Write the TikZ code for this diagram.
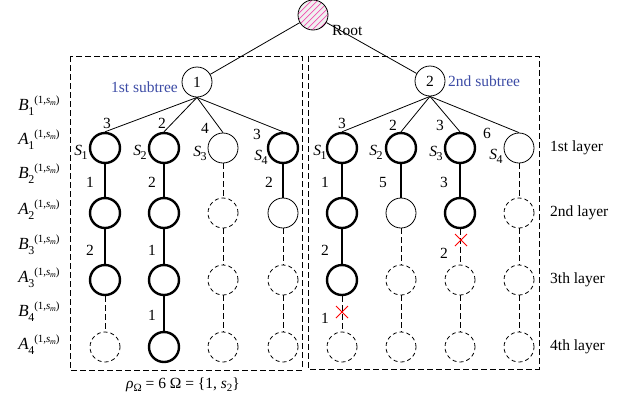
\documentclass[tikz,border=0pt]{standalone}
\usepackage{fontspec}
\setmainfont{Liberation Serif}
\usetikzlibrary{calc}
\definecolor{subblue}{RGB}{60,75,165}
\tikzset{
  x=1pt,y=-1pt,
  nd/.style={circle,minimum size=30pt,inner sep=0pt,draw,line width=0.8pt},
  ndthick/.style={nd,line width=2.4pt},
  nddash/.style={nd,dash pattern=on 4pt off 3pt},
  ethick/.style={line width=2.4pt},
  ethin/.style={line width=0.8pt},
  edash/.style={line width=0.8pt,dash pattern=on 6pt off 3pt},
  box/.style={line width=0.8pt,dash pattern=on 6pt off 3pt},
  lab/.style={font=\fontsize{15.5}{15.5}\selectfont,inner sep=0pt},
  rowlab/.style={font=\fontsize{17}{17}\selectfont,inner sep=0pt},
  xmark/.style={red,line width=0.8pt},
}
\newcommand{\XM}[2]{\draw[xmark] ($(#1)+(-6,-6)$) -- ($(#1)+(6,6)$) ($(#1)+(-6,6)$) -- ($(#1)+(6,-6)$);}
\newcommand{\SL}[1]{\textit{S}\kern-0.5pt\raisebox{-4pt}{\fontsize{12}{12}\selectfont #1}}
\newcommand{\RL}[2]{\textit{#1}\kern-0.5pt\raisebox{-5pt}{\fontsize{12}{12}\selectfont #2}\raisebox{7pt}{\fontsize{11}{11}\selectfont (1,\textit{s}\kern-0.3pt\raisebox{-2pt}{\fontsize{8}{8}\selectfont\textit{m}})}}
\begin{document}
\begin{tikzpicture}
\useasboundingbox (0,0) rectangle (634,400);
% boxes
\draw[box] (70,56) rectangle (302,370);
\draw[box] (308,56) rectangle (539,369);
% root
\node[nd,minimum size=30pt,
  path picture={\fill[gray!12] (path picture bounding box.south west) rectangle (path picture bounding box.north east);
    \foreach \k in {-40,-34,...,40} {\draw[magenta!70,line width=0.7pt] ($(path picture bounding box.center)+(\k-20,20)$) -- ($(path picture bounding box.center)+(\k+20,-20)$);}}] (root) at (313,15) {};
\node[lab,anchor=west] (roottxt) at (332,30) {Root};
% subtrees
\node[nd] (t1) at (197,82) {\fontsize{15.5}{15.5}\selectfont 1};
\node[nd] (t2) at (430,81) {\fontsize{15.5}{15.5}\selectfont 2};
\node[lab,text=subblue,anchor=east] (st1) at (178,87) {1st subtree};
\node[lab,text=subblue,anchor=west] (st2) at (448,81) {2nd subtree};
\draw[ethin] (root) -- (t1);
\draw[ethin] (root) -- (t2);
% left subtree column 1
\node[ndthick] (a1) at (105,148) {};
\node[ndthick] (a2) at (105,213) {};
\node[ndthick] (a3) at (105,280) {};
\node[nddash] (a4) at (105,347) {};
% column 2
\node[ndthick] (b1) at (164,148) {};
\node[ndthick] (b2) at (164,213) {};
\node[ndthick] (b3) at (164,280) {};
\node[ndthick] (b4) at (164,347) {};
% column 3
\node[nd] (c1) at (223,148) {};
\node[nddash] (c2) at (223,213) {};
\node[nddash] (c3) at (223,280) {};
\node[nddash] (c4) at (223,347) {};
% column 4
\node[ndthick] (d1) at (283,148) {};
\node[nd] (d2) at (283,213) {};
\node[nddash] (d3) at (283,280) {};
\node[nddash] (d4) at (283,347) {};
% right subtree
\node[ndthick] (e1) at (342,148) {};
\node[ndthick] (e2) at (342,213) {};
\node[ndthick] (e3) at (342,280) {};
\node[nddash] (e4) at (342,347) {};
\node[ndthick] (f1) at (401,148) {};
\node[nd] (f2) at (401,213) {};
\node[nddash] (f3) at (401,280) {};
\node[nddash] (f4) at (401,347) {};
\node[ndthick] (g1) at (460,148) {};
\node[ndthick] (g2) at (460,213) {};
\node[nddash] (g3) at (460,280) {};
\node[nddash] (g4) at (460,347) {};
\node[nd] (h1) at (519,148) {};
\node[nddash] (h2) at (519,213) {};
\node[nddash] (h3) at (519,280) {};
\node[nddash] (h4) at (519,347) {};
% subtree to layer1 edges
\foreach \n in {a1,b1,c1,d1} \draw[ethin] (t1.south) -- (\n.north);
\foreach \n in {e1,f1,g1,h1} \draw[ethin] (t2.south) -- (\n.north);
% vertical edges
\draw[ethick] (a1) -- (a2); \draw[ethick] (a2) -- (a3); \draw[edash] (a3) -- (a4);
\draw[ethick] (b1) -- (b2); \draw[ethick] (b2) -- (b3); \draw[ethick] (b3) -- (b4);
\draw[edash] (c1) -- (c2); \draw[edash] (c2) -- (c3); \draw[edash] (c3) -- (c4);
\draw[ethick] (d1) -- (d2); \draw[edash] (d2) -- (d3); \draw[edash] (d3) -- (d4);
\draw[ethick] (e1) -- (e2); \draw[ethick] (e2) -- (e3); \draw[edash] (e3) -- (e4);
\draw[ethick] (f1) -- (f2); \draw[edash] (f2) -- (f3); \draw[edash] (f3) -- (f4);
\draw[ethick] (g1) -- (g2); \draw[edash] (g2) -- (g3); \draw[edash] (g3) -- (g4);
\draw[edash] (h1) -- (h2); \draw[edash] (h2) -- (h3); \draw[edash] (h3) -- (h4);
% red crosses
\coordinate (x1) at (461,240);
\coordinate (x2) at (342,312);
\XM{x1}{} \XM{x2}{}
% edge weights to layer 1
\node[lab] (w1) at (107,123) {3};
\node[lab] (w2) at (162,123) {2};
\node[lab] (w3) at (205,128) {4};
\node[lab] (w4) at (257,134) {3};
\node[lab] (w5) at (342,123) {3};
\node[lab] (w6) at (393,125) {2};
\node[lab] (w7) at (440,125) {3};
\node[lab] (w8) at (487,133) {6};
% S labels
\node[lab] (s1) at (81,152) {\SL{1}};
\node[lab] (s2) at (140,152) {\SL{2}};
\node[lab] (s3) at (200,153) {\SL{3}};
\node[lab] (s4) at (261,157) {\SL{4}};
\node[lab] (s5) at (320,152) {\SL{1}};
\node[lab] (s6) at (376,152) {\SL{2}};
\node[lab] (s7) at (436,153) {\SL{3}};
\node[lab] (s8) at (496,156) {\SL{4}};
% vertical weights
\node[lab] (v1) at (90,182) {1};
\node[lab] (v2) at (152,182) {2};
\node[lab] (v3) at (269,182) {2};
\node[lab] (v4) at (325,182) {1};
\node[lab] (v5) at (383,182) {5};
\node[lab] (v6) at (444,182) {3};
\node[lab] (v7) at (90,250) {2};
\node[lab] (v8) at (152,250) {1};
\node[lab] (v9) at (325,250) {2};
\node[lab] (v10) at (444,253) {2};
\node[lab] (v11) at (152,315) {1};
\node[lab] (v12) at (325,318) {1};
% row labels left
\node[rowlab] (r1) at (39,106) {\RL{B}{1}};
\node[rowlab] (r2) at (39,140) {\RL{A}{1}};
\node[rowlab] (r3) at (39,174) {\RL{B}{2}};
\node[rowlab] (r4) at (39,210) {\RL{A}{2}};
\node[rowlab] (r5) at (39,245) {\RL{B}{3}};
\node[rowlab] (r6) at (39,278) {\RL{A}{3}};
\node[rowlab] (r7) at (39,312) {\RL{B}{4}};
\node[rowlab] (r8) at (39,345) {\RL{A}{4}};
% layer labels right
\node[lab,anchor=west] (l1) at (550,148) {1st layer};
\node[lab,anchor=west] (l2) at (550,213) {2nd layer};
\node[lab,anchor=west] (l3) at (550,280) {3th layer};
\node[lab,anchor=west] (l4) at (550,347) {4th layer};
% formula
\node[lab] (form) at (183,385) {\textit{ρ}\raisebox{-3pt}{\fontsize{11}{11}\selectfont Ω} = 6 Ω = \{1, \textit{s}\raisebox{-3pt}{\fontsize{11}{11}\selectfont 2}\}};
\end{tikzpicture}
\end{document}
